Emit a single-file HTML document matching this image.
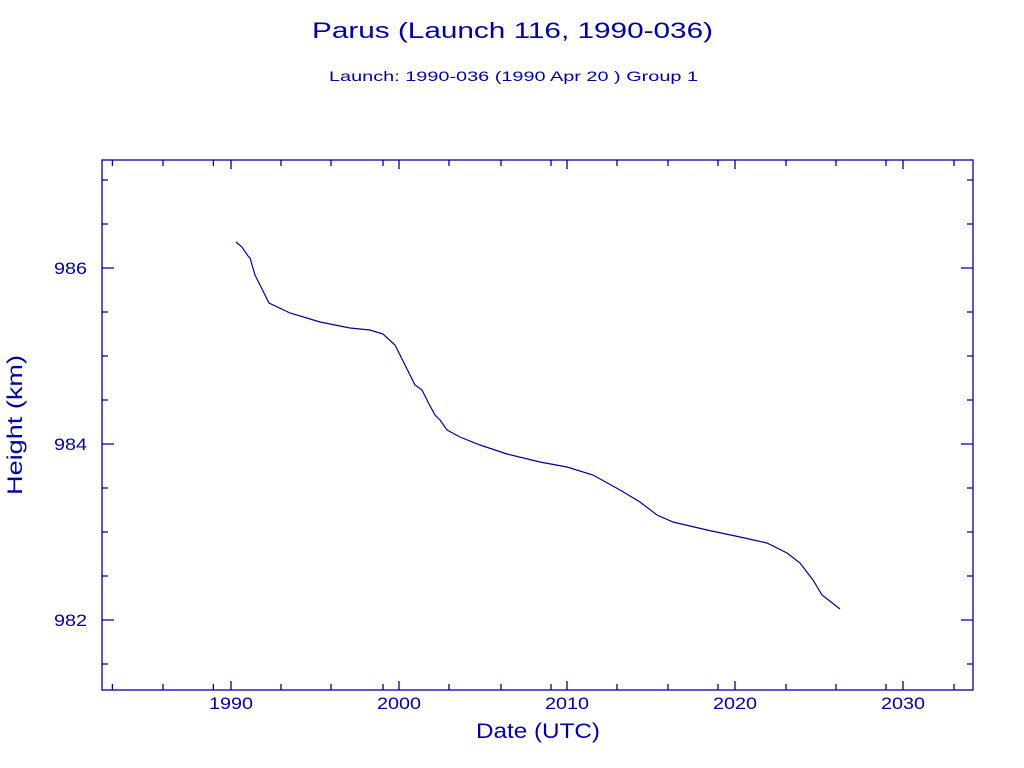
<!DOCTYPE html>
<html><head><style>
html,body{margin:0;padding:0;background:#fff;}
svg{display:block;}
text{font-family:"Liberation Sans","DejaVu Sans",sans-serif;fill:#0000a8;}
</style></head><body>
<svg width="1024" height="768" viewBox="0 0 1024 768" xmlns="http://www.w3.org/2000/svg">
<text x="312" y="38" font-size="22" textLength="401" lengthAdjust="spacingAndGlyphs">Parus (Launch 116, 1990-036)</text>
<text x="329" y="81" font-size="14" textLength="369" lengthAdjust="spacingAndGlyphs">Launch: 1990-036  (1990 Apr 20 )  Group 1</text>
<g stroke="#0000a0" stroke-width="1.3" fill="none">
<rect x="102" y="160" width="871" height="530"/>
<path d="M112.4 690v-6M163 690v-6M213.4 690v-6M281 690v-6M331 690v-6M383 690v-6M449 690v-6M501 690v-6M551 690v-6M617 690v-6M668 690v-6M718 690v-6M786 690v-6M836 690v-6M886 690v-6M954 690v-6
M112.4 160v6M163 160v6M213.4 160v6M281 160v6M331 160v6M383 160v6M449 160v6M501 160v6M551 160v6M617 160v6M668 160v6M718 160v6M786 160v6M836 160v6M886 160v6M954 160v6
M231 690v-9M399 690v-9M567 690v-9M735 690v-9M903 690v-9
M231 160v9M399 160v9M567 160v9M735 160v9M903 160v9
M102 268h12M102 444h12M102 620h12M973 268h-12M973 444h-12M973 620h-12
M102 180h6M102 224h6M102 312h6M102 356h6M102 400h6M102 488h6M102 532h6M102 576h6M102 664h6
M973 180h-6M973 224h-6M973 312h-6M973 356h-6M973 400h-6M973 488h-6M973 532h-6M973 576h-6M973 664h-6"/>
<polyline stroke-width="1.2" points="236,242 242,247 248,256 250,258 255,275 262,289 269,303 290,313 320,322 350,328 370,330 383,334 395,345 400,355 405,365 415,385 422,390 428,402 435,415 440,420 447,430 460,437 480,445 507,454 540,462 567,467 593,475 620,490 640,502 657,515 673,522 707,530 740,537 767,543 787,553 800,563 813,580 822,595 840,609"/>
</g>
<g font-size="17">
<text x="209" y="709" textLength="44" lengthAdjust="spacingAndGlyphs">1990</text>
<text x="377" y="709" textLength="44" lengthAdjust="spacingAndGlyphs">2000</text>
<text x="545" y="709" textLength="44" lengthAdjust="spacingAndGlyphs">2010</text>
<text x="713" y="709" textLength="44" lengthAdjust="spacingAndGlyphs">2020</text>
<text x="881" y="709" textLength="44" lengthAdjust="spacingAndGlyphs">2030</text>
<text x="54" y="274" textLength="33" lengthAdjust="spacingAndGlyphs">986</text>
<text x="54" y="450" textLength="33" lengthAdjust="spacingAndGlyphs">984</text>
<text x="54" y="626" textLength="33" lengthAdjust="spacingAndGlyphs">982</text>
</g>
<text x="476" y="738" font-size="21" textLength="124" lengthAdjust="spacingAndGlyphs">Date (UTC)</text>
<text transform="translate(22,495) rotate(-90)" font-size="21" textLength="140" lengthAdjust="spacingAndGlyphs">Height (km)</text>
</svg>
</body></html>
